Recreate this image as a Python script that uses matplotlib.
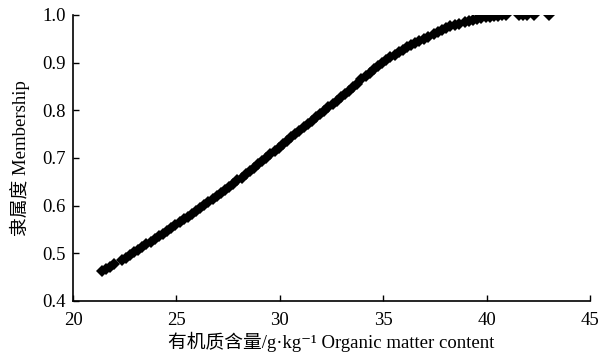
import matplotlib
matplotlib.use("Agg")
from matplotlib import pyplot as plt

# organic matter content (g/kg) and membership
organic = [
    21.4, 21.6, 21.8, 22.0,
    22.35, 22.55, 22.75, 22.95, 23.15, 23.35, 23.55, 23.75, 23.95, 24.15,
    24.35, 24.55, 24.75, 24.95, 25.15, 25.35, 25.55, 25.75, 25.95, 26.15,
    26.35, 26.55, 26.75, 26.95, 27.15, 27.35, 27.55, 27.75, 27.95, 28.15,
    28.35, 28.55, 28.75, 28.95, 29.15, 29.35, 29.55, 29.75, 29.95, 30.15,
    30.35, 30.55, 30.75, 30.95, 31.15, 31.35, 31.55, 31.75, 31.95, 32.15,
    32.35, 32.55, 32.75, 32.95, 33.15, 33.35, 33.55, 33.75, 33.95, 34.15,
    34.35, 34.55, 34.75, 34.95, 35.15, 35.35, 35.55, 35.75, 35.95, 36.15,
    36.35, 36.55, 36.75, 36.95, 37.15,
    37.45, 37.65, 37.85, 38.05, 38.25, 38.45, 38.65,
    38.95, 39.15, 39.35, 39.55, 39.75, 39.95, 40.15, 40.35, 40.55, 40.75, 40.95,
    41.55, 41.75, 41.95, 42.3, 43.0,
]
membership = [
    0.462, 0.467, 0.472, 0.477,
    0.486, 0.491, 0.497, 0.502, 0.508, 0.513, 0.519, 0.524, 0.530, 0.536,
    0.541, 0.547, 0.553, 0.559, 0.565, 0.571, 0.577, 0.583, 0.589, 0.595,
    0.601, 0.607, 0.614, 0.620, 0.626, 0.633, 0.640, 0.646, 0.653, 0.659,
    0.666, 0.673, 0.680, 0.687, 0.694, 0.701, 0.708, 0.715, 0.722, 0.729,
    0.736, 0.743, 0.750, 0.757, 0.764, 0.771, 0.778, 0.785, 0.792, 0.799,
    0.806, 0.813, 0.820, 0.827, 0.834, 0.841, 0.848, 0.855, 0.865, 0.872,
    0.879, 0.886, 0.893, 0.899, 0.905, 0.911, 0.917, 0.922, 0.927, 0.932,
    0.937, 0.942, 0.946, 0.950, 0.954,
    0.960, 0.964, 0.968, 0.972, 0.976, 0.979, 0.982,
    0.986, 0.988, 0.990, 0.992, 0.993, 0.995, 0.996, 0.997, 0.998, 0.999, 0.999,
    1.0, 1.0, 1.0, 1.0, 1.0,
]

x_ticks = [20, 25, 30, 35, 40, 45]
y_ticks = [0.4, 0.5, 0.6, 0.7, 0.8, 0.9, 1.0]

plt.rcParams['font.family'] = ['Liberation Serif', 'Noto Sans CJK SC', 'DejaVu Serif']

fig = plt.figure(figsize=(6.11, 3.56), dpi=100)
ax = fig.add_axes([0.1195, 0.1545, 0.8461, 0.8034])

ax.plot(organic, membership, linestyle='none', marker='D', markersize=6,
        color='black', markeredgewidth=0)

ax.set_xlim(20, 45)
ax.set_ylim(0.4, 1.0)
ax.set_xticks(x_ticks)
ax.set_yticks(y_ticks)
ax.set_yticklabels([f"{v:.1f}" for v in y_ticks])
ax.tick_params(direction='in', length=4, width=1, labelsize=13.5)
ax.tick_params(axis='x', pad=8)
ax.tick_params(axis='y', pad=5)
ax.spines['top'].set_visible(False)
ax.spines['right'].set_visible(False)
for side in ['left', 'bottom']:
    ax.spines[side].set_linewidth(1.2)

ax.set_xlabel("有机质含量/g·kg⁻¹ Organic matter content", fontsize=13.5, labelpad=2)
ax.set_ylabel("隶属度 Membership", fontsize=13.5, labelpad=9)

fig.savefig("out.png", dpi=100, facecolor='white')
